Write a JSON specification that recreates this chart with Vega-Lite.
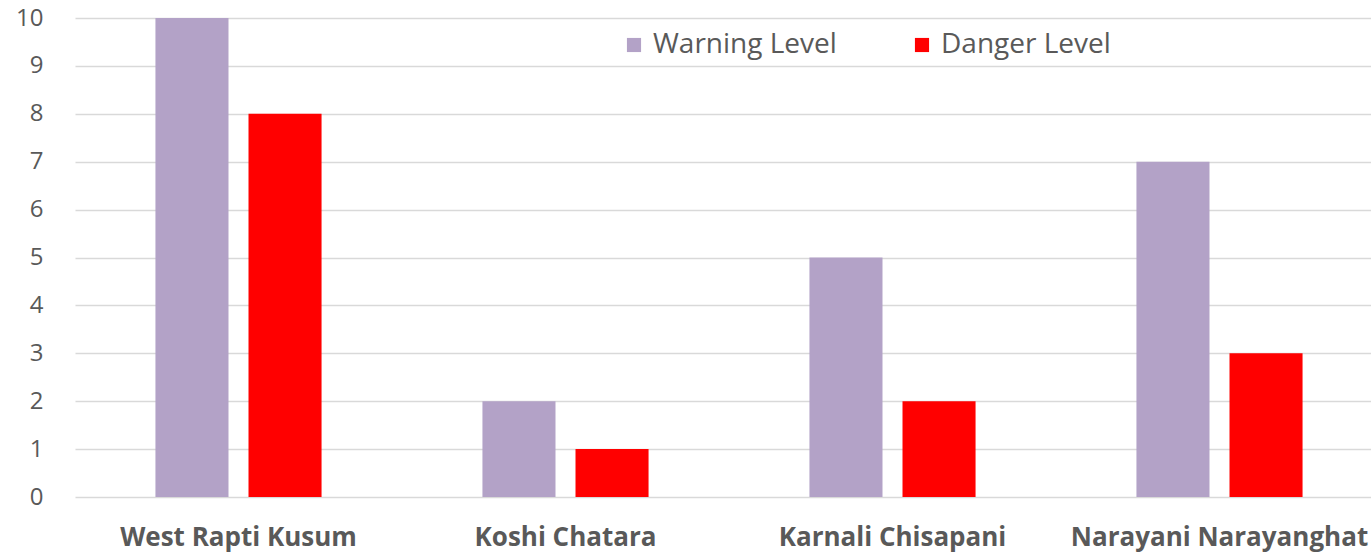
{
  "$schema": "https://vega.github.io/schema/vega-lite/v6.json",
  "autosize": {"type": "none"},
  "padding": {"left": 75, "top": 18, "right": 0, "bottom": 59},
  "width": 1308,
  "height": 479,
  "background": "white",
  "config": {"view": {"stroke": null}, "font": "Open Sans"},
  "data": {"values": [
    {"station": "West Rapti Kusum", "level": "Warning Level", "value": 10},
    {"station": "West Rapti Kusum", "level": "Danger Level", "value": 8},
    {"station": "Koshi Chatara", "level": "Warning Level", "value": 2},
    {"station": "Koshi Chatara", "level": "Danger Level", "value": 1},
    {"station": "Karnali Chisapani", "level": "Warning Level", "value": 5},
    {"station": "Karnali Chisapani", "level": "Danger Level", "value": 2},
    {"station": "Narayani Narayanghat", "level": "Warning Level", "value": 7},
    {"station": "Narayani Narayanghat", "level": "Danger Level", "value": 3}
  ]},
  "mark": {"type": "bar"},
  "encoding": {
    "x": {
      "field": "station", "type": "nominal", "sort": null,
      "scale": {"paddingInner": 0.492, "paddingOuter": 0.246},
      "axis": {"title": null, "labelAngle": 0, "ticks": false, "domain": false,
               "labelFont": "Open Sans", "labelFontSize": 26, "labelFontWeight": "bold",
               "labelColor": "#595959", "labelPadding": 27, "labelLimit": 500}
    },
    "xOffset": {"field": "level", "type": "nominal", "sort": ["Warning Level", "Danger Level"],
                "scale": {"paddingInner": 0.215}},
    "y": {
      "field": "value", "type": "quantitative",
      "scale": {"domain": [0, 10], "nice": false},
      "axis": {"title": null, "values": [0,1,2,3,4,5,6,7,8,9,10], "ticks": false, "domain": false,
               "grid": true, "gridColor": "#D9D9D9", "gridWidth": 1.5,
               "labelFont": "Open Sans", "labelFontSize": 24, "labelColor": "#595959",
               "labelPadding": 32}
    },
    "color": {
      "field": "level", "type": "nominal",
      "sort": ["Warning Level", "Danger Level"],
      "scale": {"domain": ["Warning Level", "Danger Level"], "range": ["#B3A2C7", "#FF0000"]},
      "legend": {
        "title": null, "orient": "none", "legendX": 545, "legendY": 13,
        "direction": "horizontal", "columns": 2, "columnPadding": 71,
        "symbolType": "square", "symbolSize": 200, "symbolStrokeWidth": 0,
        "symbolOpacity": 1,
        "labelFont": "Open Sans", "labelFontSize": 28, "labelColor": "#595959",
        "labelOffset": 5, "labelLimit": 400
      }
    }
  }
}
